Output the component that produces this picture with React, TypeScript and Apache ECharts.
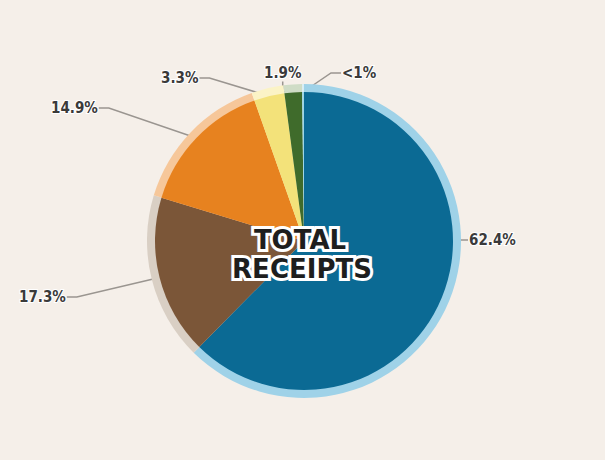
import React, { useEffect, useRef } from "react";
import * as echarts from "echarts";

const categories = ["A", "B", "C", "D", "E", "F"];
const values = [62.4, 17.3, 14.9, 3.3, 1.9, 0.2];
const labels = ["62.4%", "17.3%", "14.9%", "3.3%", "1.9%", "<1%"];
const colors = ["#0b6a94", "#7b5638", "#e7821f", "#f3e27a", "#3f6b2b", "#9ed6e6"];
const haloColors = ["#9fd2e8", "#d9cfc4", "#f6c79a", "#fbf3c6", "#cfdcc6", "#d8eef5"];
const labelPos = [
  [469, 240],
  [19, 297],
  [51, 108],
  [161, 78],
  [264, 73],
  [342, 73],
];

export default function App() {
  const ref = useRef<HTMLDivElement>(null);
  useEffect(() => {
    const chart = echarts.init(ref.current!, null, { renderer: "svg" });
    const data = categories.map((c, i) => ({
      name: c,
      value: values[i],
      itemStyle: { color: colors[i] },
    }));
    const halo = categories.map((c, i) => ({
      name: c,
      value: values[i],
      itemStyle: { color: haloColors[i] },
    }));
    const textStyle = {
      align: "center",
      verticalAlign: "middle",
      fontFamily: "DejaVu Sans",
      fontWeight: "bold",
      fontSize: 26,
      fill: "#1e1e1e",
      stroke: "#ffffff",
      lineWidth: 6,
    };
    chart.setOption({
      animation: false,
      backgroundColor: "#f5efe9",
      series: [
        {
          type: "pie",
          center: [304, 241],
          radius: 157,
          startAngle: 90,
          clockwise: true,
          silent: true,
          label: { show: false },
          labelLine: { show: false },
          data: halo,
        },
        {
          type: "pie",
          center: [304, 241],
          radius: 149,
          startAngle: 90,
          clockwise: true,
          itemStyle: { borderWidth: 0 },
          label: {
            show: true,
            position: "outside",
            formatter: (p: any) => labels[p.dataIndex],
            fontFamily: "DejaVu Sans Condensed",
            fontWeight: "bold",
            fontSize: 15,
            color: "#3a3a3a",
            textBorderColor: "#ffffff",
            textBorderWidth: 2,
          },
          labelLine: {
            show: true,
            length: 10,
            length2: 10,
            lineStyle: { color: "#9a9590", width: 1.5 },
          },
          labelLayout: (p: any) => ({
            x: labelPos[p.dataIndex][0],
            y: labelPos[p.dataIndex][1],
            align: "left",
            verticalAlign: "middle",
          }),
          data,
        },
      ],
      graphic: [
        {
          type: "text",
          z: 100,
          x: 300,
          y: 240,
          style: { ...textStyle, text: "TOTAL" },
        },
        {
          type: "text",
          z: 100,
          x: 302,
          y: 269,
          style: { ...textStyle, text: "RECEIPTS" },
        },
      ],
    });
    return () => chart.dispose();
  }, []);
  return (
    <div
      ref={ref}
      style={{ position: "fixed", left: 0, top: 0, width: 605, height: 460 }}
    />
  );
}
